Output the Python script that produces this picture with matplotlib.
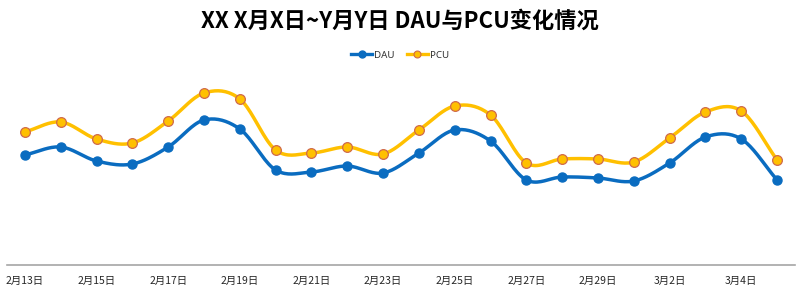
import numpy as np
import matplotlib.pyplot as plt

plt.rcParams['font.family'] = ['Noto Sans CJK SC', 'DejaVu Sans']

# data
dates = ['2月13日', '2月14日', '2月15日', '2月16日', '2月17日', '2月18日', '2月19日',
         '2月20日', '2月21日', '2月22日', '2月23日', '2月24日', '2月25日', '2月26日',
         '2月27日', '2月28日', '2月29日', '3月1日', '3月2日', '3月3日', '3月4日', '3月5日']
dau = [110, 118, 104, 101, 118, 145, 136, 95, 93, 99, 92,
       112, 135, 124, 85, 88, 87, 84, 102, 128, 126, 85]
pcu = [133, 143, 126, 122, 144, 172, 166, 115, 112, 118, 111,
       135, 159, 150, 102, 106, 106, 103, 127, 153, 154, 105]

title = 'XX X月X日~Y月Y日 DAU与PCU变化情况'


def smooth(x, y, n=20):
    # catmull-rom curve through the points, like a smoothed line chart
    x = np.asarray(x, float)
    y = np.asarray(y, float)
    px = np.concatenate([[2 * x[0] - x[1]], x, [2 * x[-1] - x[-2]]])
    py = np.concatenate([[2 * y[0] - y[1]], y, [2 * y[-1] - y[-2]]])
    xs, ys = [], []
    t = np.linspace(0, 1, n, endpoint=False)
    for i in range(1, len(px) - 2):
        for p, out in ((px, xs), (py, ys)):
            p0, p1, p2, p3 = p[i - 1], p[i], p[i + 1], p[i + 2]
            out.extend(0.5 * ((2 * p1) + (-p0 + p2) * t
                              + (2 * p0 - 5 * p1 + 4 * p2 - p3) * t ** 2
                              + (-p0 + 3 * p1 - 3 * p2 + p3) * t ** 3))
    xs.append(x[-1])
    ys.append(y[-1])
    return np.array(xs), np.array(ys)


fig = plt.figure(figsize=(8, 2.98), dpi=100)
ax = fig.add_axes([7 / 800, 33 / 298, 788 / 800, 200 / 298])

x = np.arange(len(dates))
blue = '#0A6CC0'
gold = '#FFC000'

sx, sy = smooth(x, dau)
ax.plot(sx, sy, color=blue, lw=2.5, solid_capstyle='round')
ax.plot(x, dau, 'o', color=blue, ms=6.5)
sx, sy = smooth(x, pcu)
ax.plot(sx, sy, color=gold, lw=2.5, solid_capstyle='round')
ax.plot(x, pcu, 'o', color=gold, mec='#D06A4A', mew=0.9, ms=7)

# legend proxies
ax.plot([], [], '-o', color=blue, lw=2.4, ms=5, label='DAU')
ax.plot([], [], '-o', color=gold, mec='#D06A4A', mew=0.8, lw=2.4, ms=5, label='PCU')
handles, labels = ax.get_legend_handles_labels()
leg = fig.legend(handles[-2:], labels[-2:], loc='center', bbox_to_anchor=(0.5, 1 - 55 / 298),
                 ncol=2, frameon=False, handlelength=2.2, handletextpad=0.2,
                 columnspacing=1.2, prop={'family': 'Noto Sans', 'size': 7})
for t in leg.get_texts():
    t.set_color('#333333')

ax.set_xlim(-0.5, len(dates) - 0.5)
ax.set_ylim(0, 200)
ax.set_xticks(x[::2])
ax.set_xticklabels(dates[::2], fontsize=7.5, color='#262626')
ax.tick_params(axis='x', length=0, pad=8)
ax.set_yticks([])
for s in ['top', 'right', 'left']:
    ax.spines[s].set_visible(False)
ax.spines['bottom'].set_color('#A6A6A6')
ax.spines['bottom'].set_linewidth(1.2)

fig.text(0.5, 1 - 21 / 298, title, ha='center', va='center', fontsize=16,
         fontweight='bold', color='black')

fig.savefig('out.png', dpi=100)
